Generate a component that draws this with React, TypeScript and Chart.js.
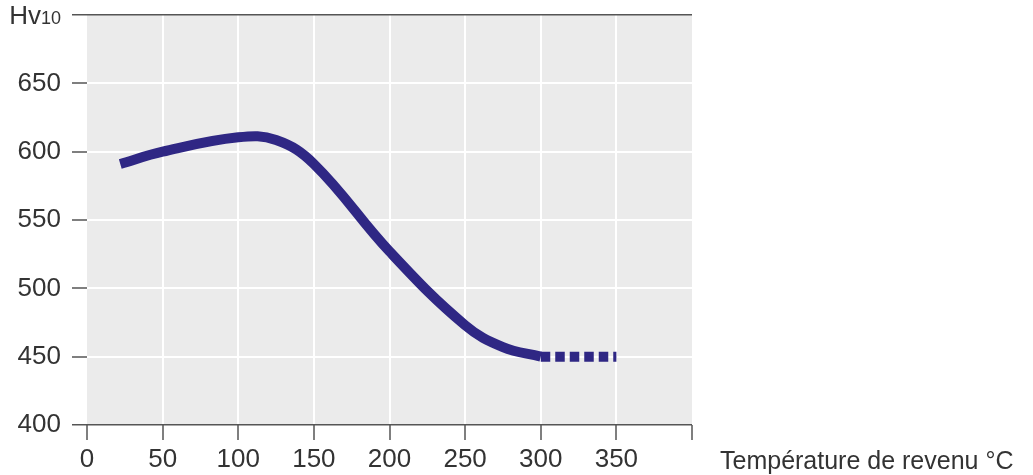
import React, { useEffect, useRef } from "react";
import { Chart, registerables } from "chart.js";

Chart.register(...registerables);

const temps = [22, 50, 100, 125, 150, 200, 250, 275, 300];
const hardness = [591, 600, 610.5, 608.5, 591, 527, 473, 457, 450];
const dashTemps = [300, 350];
const dashHardness = [450, 450];
const xTicks = [0, 50, 100, 150, 200, 250, 300, 350, 400];
const yTicks = [400, 450, 500, 550, 600, 650, 700];
const xTitle = "Température de revenu °C";
const yTitleMain = "Hv";
const yTitleSub = "10";

const LINE = "#2f2784";
const AXIS = "#555555";
const TEXT = "#333333";
const FONT = "'Liberation Sans', Arial, Helvetica, sans-serif";

export default function App() {
  const ref = useRef<HTMLCanvasElement | null>(null);

  useEffect(() => {
    if (!ref.current) return;
    const bgPlugin = {
      id: "bgPlugin",
      beforeDraw(chart: any) {
        const { ctx, chartArea } = chart;
        ctx.save();
        ctx.fillStyle = "#ebebeb";
        ctx.fillRect(chartArea.left, chartArea.top, chartArea.right - chartArea.left, chartArea.bottom - chartArea.top);
        ctx.restore();
      },
      afterDraw(chart: any) {
        const { ctx, chartArea, scales } = chart;
        ctx.save();
        ctx.fillStyle = TEXT;
        ctx.font = `25px ${FONT}`;
        ctx.textAlign = "left";
        ctx.textBaseline = "middle";
        ctx.fillText(xTitle, chartArea.right + 28, scales.x.bottom - 13);
        const yTop = scales.y.getPixelForValue(yTicks[yTicks.length - 1]);
        ctx.textBaseline = "alphabetic";
        ctx.font = `26px ${FONT}`;
        const mainW = ctx.measureText(yTitleMain).width;
        ctx.font = `18px ${FONT}`;
        const subW = ctx.measureText(yTitleSub).width;
        const right = 61;
        const startX = right - subW - mainW;
        ctx.font = `26px ${FONT}`;
        ctx.fillText(yTitleMain, startX, yTop + 9);
        ctx.font = `18px ${FONT}`;
        ctx.fillText(yTitleSub, startX + mainW, yTop + 9);
        ctx.restore();
      },
    };

    const chart = new Chart(ref.current, {
      type: "line",
      data: {
        datasets: [
          {
            data: temps.map((t, i) => ({ x: t, y: hardness[i] })),
            borderColor: LINE,
            borderWidth: 10,
            pointRadius: 0,
            tension: 0.4,
            borderCapStyle: "butt",
            fill: false,
          },
          {
            data: dashTemps.map((t, i) => ({ x: t, y: dashHardness[i] })),
            borderColor: LINE,
            borderWidth: 10,
            borderDash: [9.5, 5],
            borderCapStyle: "butt",
            pointRadius: 0,
            fill: false,
          },
        ],
      },
      options: {
        animation: false,
        responsive: true,
        maintainAspectRatio: false,
        layout: { padding: { top: 15, right: 341, left: 0, bottom: 0 } },
        plugins: { legend: { display: false }, tooltip: { enabled: false } },
        scales: {
          x: {
            type: "linear",
            min: 0,
            max: 400,
            afterBuildTicks(scale: any) {
              scale.ticks = xTicks.map((v) => ({ value: v }));
            },
            afterFit(scale: any) {
              scale.height = 50;
              scale.paddingLeft = 0;
              scale.paddingRight = 0;
            },
            border: { display: false },
            grid: {
              color: (c: any) => (c.tick && (c.tick.value === 0 || c.tick.value === 400) ? "rgba(0,0,0,0)" : "#ffffff"),
              tickColor: AXIS,
              lineWidth: 2,
              tickWidth: 1.5,
              tickLength: 15,
              drawTicks: true,
            },
            ticks: {
              color: TEXT,
              font: { size: 26, family: FONT },
              padding: 4,
              maxRotation: 0,
              autoSkip: false,
              callback: (v: any) => (v === 400 ? "" : String(v)),
            },
          },
          y: {
            type: "linear",
            min: 400,
            max: 700,
            afterBuildTicks(scale: any) {
              scale.ticks = yTicks.map((v) => ({ value: v }));
            },
            afterFit(scale: any) {
              scale.width = 87;
              scale.paddingTop = 0;
              scale.paddingBottom = 0;
            },
            border: { display: false },
            grid: {
              color: (c: any) => (c.tick && (c.tick.value === 400 || c.tick.value === 700) ? AXIS : "#ffffff"),
              tickColor: AXIS,
              lineWidth: (c: any) => (c.tick && (c.tick.value === 400 || c.tick.value === 700) ? 1.5 : 2),
              tickWidth: 1.5,
              tickLength: 15,
              drawTicks: true,
            },
            ticks: {
              color: TEXT,
              font: { size: 26, family: FONT },
              padding: 11,
              autoSkip: false,
              callback: (v: any) => (v === 700 ? "" : String(v)),
            },
          },
        },
      },
      plugins: [bgPlugin],
    } as any);
    return () => chart.destroy();
  }, []);

  return (
    <div style={{ position: "fixed", left: 0, top: 0, width: 1033, height: 475, background: "#fff" }}>
      <canvas ref={ref} />
    </div>
  );
}
